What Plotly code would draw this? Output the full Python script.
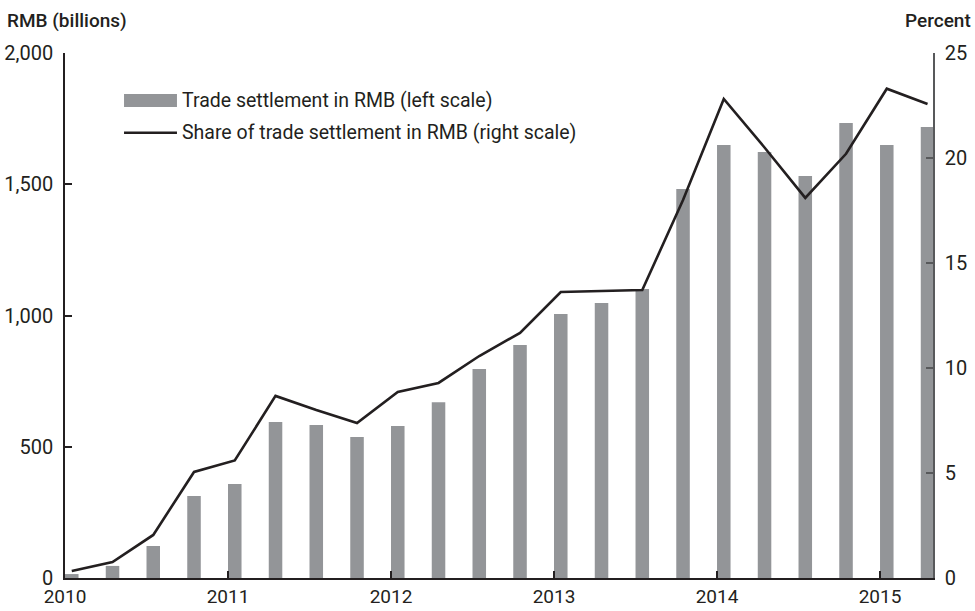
import plotly.graph_objects as go

quarters = [
    "2010Q1", "2010Q2", "2010Q3", "2010Q4",
    "2011Q1", "2011Q2", "2011Q3", "2011Q4",
    "2012Q1", "2012Q2", "2012Q3", "2012Q4",
    "2013Q1", "2013Q2", "2013Q3", "2013Q4",
    "2014Q1", "2014Q2", "2014Q3", "2014Q4",
    "2015Q1", "2015Q2",
]
settlement_rmb_bn = [
    15, 46, 122, 312, 358, 594, 583, 537, 579, 670, 796, 888,
    1006, 1048, 1101, 1482, 1650, 1623, 1531, 1733, 1650, 1718,
]
share_pct = [
    0.33, 0.76, 2.05, 5.05, 5.6, 8.67, 8.0, 7.38, 8.86, 9.29, 10.57, 11.67,
    13.62, 13.67, 13.71, 18.0, 22.81, 20.5, 18.1, 20.2, 23.3, 22.57,
]
year_ticks = [2010, 2011, 2012, 2013, 2014, 2015]
left_ticks = [0, 500, 1000, 1500, 2000]
right_ticks = [0, 5, 10, 15, 20, 25]

BAR_W = 0.083
x_start = [int(q[:4]) + (int(q[-1]) - 1) * 0.25 for q in quarters]
x_mid = [x + BAR_W / 2 for x in x_start]

FONT = "Roboto"
INK = "#231f20"
GRAY = "#939598"

fig = go.Figure()
fig.add_trace(go.Bar(
    x=x_start, y=settlement_rmb_bn, width=BAR_W, offset=0,
    marker=dict(color=GRAY, line=dict(width=0)),
    name="Trade settlement in RMB (left scale)",
))
fig.add_trace(go.Scatter(
    x=x_mid, y=share_pct, yaxis="y2", mode="lines",
    line=dict(color=INK, width=2.6),
    name="Share of trade settlement in RMB (right scale)",
))

axis_common = dict(
    showgrid=False, zeroline=False, showline=True, linewidth=1.5,
    ticks="inside", ticklen=7, tickwidth=1.5,
)

fig.update_layout(
    width=975, height=611,
    margin=dict(l=65, r=42, t=53, b=33, autoexpand=False),
    plot_bgcolor="white", paper_bgcolor="white",
    showlegend=False,
    font=dict(family=FONT, size=18, color=INK),
    xaxis=dict(
        range=[2010, 2015.325], tickvals=year_ticks,
        ticktext=[str(y) for y in year_ticks],
        linecolor=INK, tickcolor=INK, ticklabelstandoff=0,
        tickfont=dict(size=19, color=INK), **axis_common,
    ),
    yaxis=dict(
        range=[0, 2000], tickvals=left_ticks, tickformat=",",
        linecolor=INK, tickcolor=INK, ticklabelstandoff=6,
        tickfont=dict(size=20, color=INK), **axis_common,
    ),
    yaxis2=dict(
        range=[0, 25], tickvals=right_ticks, overlaying="y", side="right",
        linecolor="#58595b", tickcolor="#58595b", ticklabelstandoff=6,
        tickfont=dict(size=20, color=INK), **axis_common,
    ),
)

# legend drawn by hand, to match the wide swatches
fig.add_shape(type="rect", xref="paper", yref="paper",
              x0=0.068, x1=0.129, y0=0.897, y1=0.922,
              fillcolor=GRAY, line=dict(width=0))
fig.add_shape(type="line", xref="paper", yref="paper",
              x0=0.068, x1=0.129, y0=0.848, y1=0.848,
              line=dict(color=INK, width=2.5))
fig.add_annotation(xref="paper", yref="paper", x=0.1325, y=0.910,
                   xanchor="left", yanchor="middle", showarrow=False,
                   text=fig.data[0].name, font=dict(size=19.5))
fig.add_annotation(xref="paper", yref="paper", x=0.1325, y=0.848,
                   xanchor="left", yanchor="middle", showarrow=False,
                   text=fig.data[1].name, font=dict(size=19.5))

# axis unit labels
fig.add_annotation(xref="paper", yref="paper", x=-0.069, y=1.061,
                   xanchor="left", yanchor="middle", showarrow=False,
                   text="RMB (billions)", font=dict(size=19, weight=500))
fig.add_annotation(xref="paper", yref="paper", x=1.046, y=1.061,
                   xanchor="right", yanchor="middle", showarrow=False,
                   text="Percent", font=dict(size=19, weight=500))

fig.write_html("out.html", config={"displayModeBar": False},
               post_script="document.body.style.margin='0';")
